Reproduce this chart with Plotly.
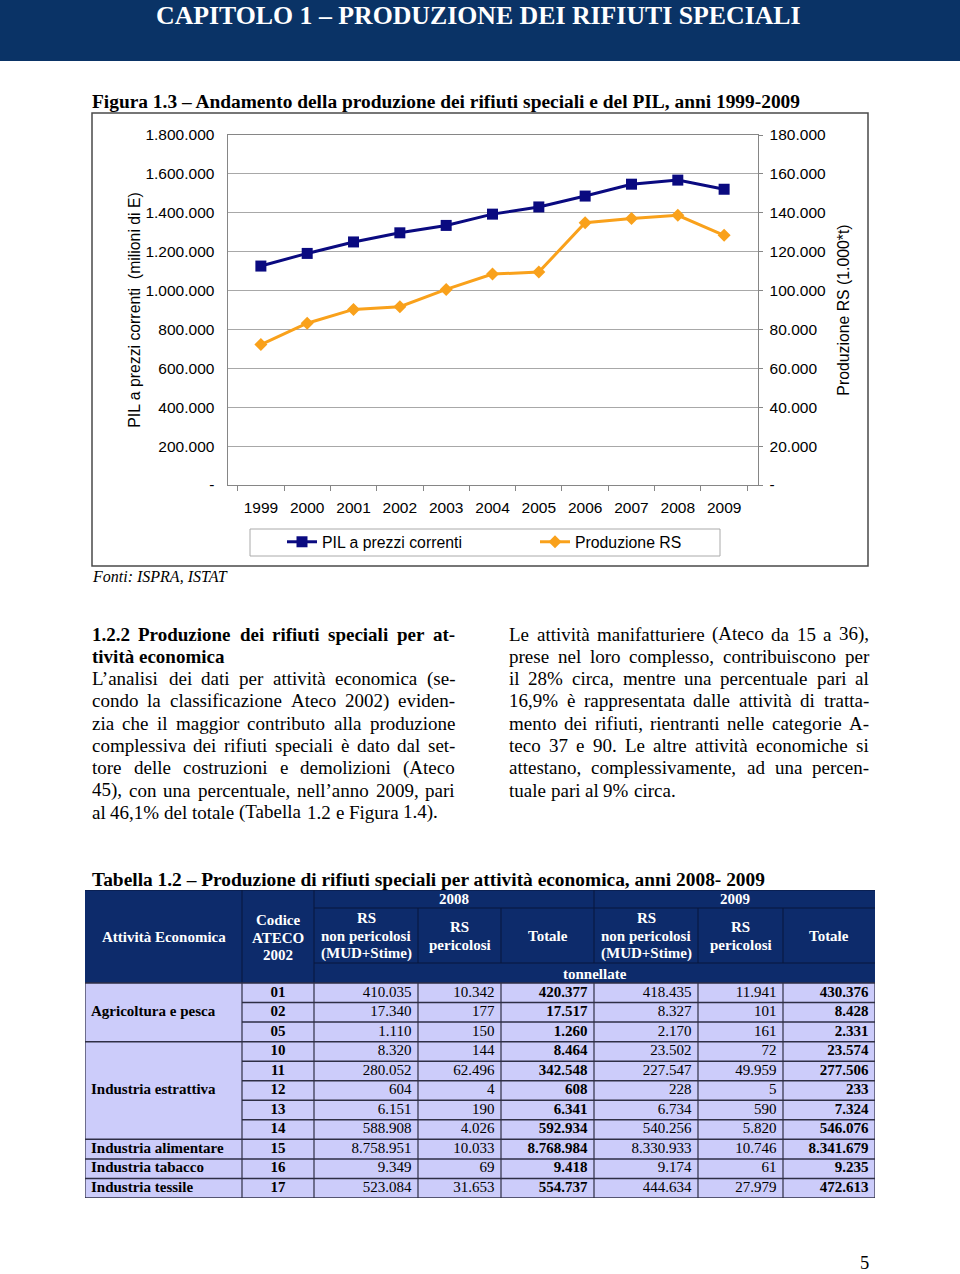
import plotly.graph_objects as go

W, H = 960, 1274
SERIF = "Liberation Serif"
SANS = "Liberation Sans"
GRAY = "#868686"
NAVY_BAR = "#0a3366"
TABLE_HEAD = "#0d2b6b"
TABLE_BODY = "#ccccfa"

# ---------------- chart data ----------------
years = ["1999", "2000", "2001", "2002", "2003", "2004", "2005", "2006", "2007", "2008", "2009"]
pil_values = [1126000, 1191000, 1250000, 1297000, 1335000, 1393000, 1430000, 1486000, 1547000, 1568000, 1521000]
rs_values = [72200, 83200, 90300, 91700, 100600, 108500, 109500, 134900, 137000, 138700, 128400]

pil_tickvals = [0, 200000, 400000, 600000, 800000, 1000000, 1200000, 1400000, 1600000, 1800000]
pil_ticktext = ["-", "200.000", "400.000", "600.000", "800.000", "1.000.000",
                "1.200.000", "1.400.000", "1.600.000", "1.800.000"]
rs_tickvals = [0, 20000, 40000, 60000, 80000, 100000, 120000, 140000, 160000, 180000]
rs_ticktext = ["-", "20.000", "40.000", "60.000", "80.000", "100.000",
               "120.000", "140.000", "160.000", "180.000"]

# ---------------- table data ----------------
table_groups = ["Agricoltura e pesca", "Industria estrattiva", "Industria alimentare",
                "Industria tabacco", "Industria tessile"]
table_group_rows = [3, 5, 1, 1, 1]
ateco_codes = ["01", "02", "05", "10", "11", "12", "13", "14", "15", "16", "17"]
rs_np_2008 = [410035, 17340, 1110, 8320, 280052, 604, 6151, 588908, 8758951, 9349, 523084]
rs_p_2008 = [10342, 177, 150, 144, 62496, 4, 190, 4026, 10033, 69, 31653]
rs_tot_2008 = [420377, 17517, 1260, 8464, 342548, 608, 6341, 592934, 8768984, 9418, 554737]
rs_np_2009 = [418435, 8327, 2170, 23502, 227547, 228, 6734, 540256, 8330933, 9174, 444634]
rs_p_2009 = [11941, 101, 161, 72, 49959, 5, 590, 5820, 10746, 61, 27979]
rs_tot_2009 = [430376, 8428, 2331, 23574, 277506, 233, 7324, 546076, 8341679, 9235, 472613]

# ---------------- texts ----------------
left_lines = [
    "1.2.2 Produzione dei rifiuti speciali per at-",
    "tività economica",
    "L’analisi dei dati per attività economica (se-",
    "condo la classificazione Ateco 2002) eviden-",
    "zia che il maggior contributo alla produzione",
    "complessiva dei rifiuti speciali è dato dal set-",
    "tore delle costruzioni e demolizioni (Ateco",
    "45), con una percentuale, nell’anno 2009, pari",
    "al 46,1% del totale (Tabella 1.2 e Figura 1.4).",
]
right_lines = [
    "Le attività manifatturiere (Ateco da 15 a 36),",
    "prese nel loro complesso, contribuiscono per",
    "il 28% circa, mentre una percentuale pari al",
    "16,9% è rappresentata dalle attività di tratta-",
    "mento dei rifiuti, rientranti nelle categorie A-",
    "teco 37 e 90. Le altre attività economiche si",
    "attestano, complessivamente, ad una percen-",
    "tuale pari al 9% circa.",
]


def it_num(n):
    return f"{n:,}".replace(",", ".")


def px(x):
    return x / W


def py(y):
    return 1 - y / H


# Times metrics (per 1000 em) for justification
TNR = dict(zip("abcdefghijklmnopqrstuvwxyz",
               [444, 500, 444, 500, 444, 333, 500, 500, 278, 278, 500, 278, 778, 500, 500, 500,
                500, 333, 389, 278, 500, 500, 722, 500, 500, 444]))
TNR.update(zip("ABCDEFGHIJKLMNOPQRSTUVWXYZ",
               [722, 667, 667, 722, 611, 556, 722, 722, 333, 389, 722, 611, 889, 722, 722, 556,
                722, 667, 556, 611, 722, 722, 944, 722, 722, 611]))
TNR.update({" ": 250, ",": 250, ".": 250, "-": 333, "(": 333, ")": 333, "%": 833,
            "’": 333, "à": 444, "è": 444, ":": 278})
TNRB = dict(zip("abcdefghijklmnopqrstuvwxyz",
                [500, 556, 444, 556, 444, 333, 500, 556, 278, 333, 556, 278, 833, 556, 500, 556,
                 556, 444, 389, 333, 556, 500, 722, 500, 500, 444]))
TNRB.update(zip("ABCDEFGHIJKLMNOPQRSTUVWXYZ",
                [722, 667, 722, 722, 667, 611, 778, 778, 389, 500, 778, 667, 944, 722, 778, 611,
                 778, 722, 556, 667, 722, 722, 1000, 722, 722, 667]))
TNRB.update({" ": 250, ",": 250, ".": 250, "-": 333, "(": 333, ")": 333, "%": 1000,
             "à": 500, "–": 500})


def text_width(s, size, bold=False):
    tbl = TNRB if bold else TNR
    return sum(tbl.get(c, 500) for c in s) * size / 1000.0


annotations = []


def ann(x, y, text, size, xanchor="left", bold=False, italic=False, color="black",
        family=SERIF, angle=0, yanchor="middle"):
    t = text
    if bold:
        t = "<b>" + t + "</b>"
    if italic:
        t = "<i>" + t + "</i>"
    annotations.append(dict(x=px(x), y=py(y), xref="paper", yref="paper", text=t,
                            showarrow=False, xanchor=xanchor, yanchor=yanchor,
                            font=dict(family=family, size=size, color=color),
                            borderpad=0, borderwidth=0, textangle=angle))


def add_paragraph(lines, x0, x1, y0, lh, size, bold_set, nojust_set):
    for i, line in enumerate(lines):
        bold = i in bold_set
        words = line.split(" ")
        ws = [text_width(w, size, bold) for w in words]
        if i not in nojust_set and len(words) > 1:
            gap = (x1 - x0 - sum(ws)) / (len(words) - 1)
        else:
            gap = 250 * size / 1000.0
        x = x0
        for w, wd in zip(words, ws):
            ann(x, y0 + i * lh, w, size, bold=bold)
            x += wd + gap


BODY = 19
LH = 22.3
# page texts
ann(478, 15, "CAPITOLO 1 – PRODUZIONE DEI RIFIUTI SPECIALI", 25.8, xanchor="center",
    bold=True, color="white")
ann(92, 101, "Figura 1.3 – Andamento della produzione dei rifiuti speciali e del PIL, anni 1999-2009",
    19.4, bold=True)
ann(92, 576, "Fonti: ISPRA, ISTAT", 16, italic=True)
add_paragraph(left_lines, 92, 455, 634, LH, BODY, {0, 1}, {1, 8})
add_paragraph(right_lines, 509, 869, 634, LH, BODY, set(), {7})
ann(92, 879, "Tabella 1.2 – Produzione di rifiuti speciali per attività economica, anni 2008- 2009",
    19.4, bold=True)
ann(864, 1273, "5", 18.5, xanchor="center", yanchor="bottom")

# ---------------- table geometry ----------------
TX0, TY0, ROW = 85, 983, 19.547
col_edges = [0, 157, 229, 333, 416, 509, 613, 698, 790]
HEAD_TOP = (890 - TY0) / ROW
HEAD_SPLIT1 = (908 - TY0) / ROW
HEAD_SPLIT2 = (963 - TY0) / ROW
n_rows = len(ateco_codes)


def hy(ypx):
    return (ypx - TY0) / ROW


def tann(x, ypx, text, size=15, bold=True, color="white", xanchor="center"):
    t = "<b>" + text + "</b>" if bold else text
    annotations.append(dict(x=x, y=hy(ypx), xref="x3", yref="y3", text=t, showarrow=False,
                            xanchor=xanchor, yanchor="middle", borderpad=0, borderwidth=0,
                            font=dict(family=SERIF, size=size, color=color)))


def mid(a, b):
    return (col_edges[a] + col_edges[b]) / 2


HL = 17.5
tann(mid(0, 1), 937, "Attività Economica")
for k, t in enumerate(["Codice", "ATECO", "2002"]):
    tann(mid(1, 2), 920 + k * HL, t)
tann(mid(2, 5), 899, "2008")
tann(mid(5, 8), 899, "2009")
for c0 in (2, 5):
    for k, t in enumerate(["RS", "non pericolosi", "(MUD+Stime)"]):
        tann(mid(c0, c0 + 1), 918 + k * HL, t)
    for k, t in enumerate(["RS", "pericolosi"]):
        tann(mid(c0 + 1, c0 + 2), 927 + k * HL, t)
    tann(mid(c0 + 2, c0 + 3), 936, "Totale")
tann(mid(2, 8), 974, "tonnellate")

shapes = []
# header bar
shapes.append(dict(type="rect", xref="paper", yref="paper", x0=0, x1=1, y0=py(61), y1=1,
                   fillcolor=NAVY_BAR, line=dict(width=0), layer="below"))
# chart frame
shapes.append(dict(type="rect", xref="paper", yref="paper", x0=px(92), x1=px(868),
                   y0=py(566), y1=py(113), line=dict(color="#4a4a4a", width=1.5)))
# legend frame
shapes.append(dict(type="rect", xref="paper", yref="paper", x0=px(250), x1=px(720),
                   y0=py(556), y1=py(529), line=dict(color="#aaaaaa", width=1)))
# table fills
shapes.append(dict(type="rect", xref="x3", yref="y3", x0=0, x1=790, y0=HEAD_TOP, y1=0,
                   fillcolor=TABLE_HEAD, line=dict(width=0), layer="below"))
shapes.append(dict(type="rect", xref="x3", yref="y3", x0=0, x1=790, y0=0, y1=n_rows,
                   fillcolor=TABLE_BODY, line=dict(width=0), layer="below"))


def tline(x0, y0, x1, y1, color, width):
    shapes.append(dict(type="line", xref="x3", yref="y3", x0=x0, y0=y0, x1=x1, y1=y1,
                       line=dict(color=color, width=width)))


HCOL = "#08173d"
tline(0, HEAD_TOP, 790, HEAD_TOP, HCOL, 1)
for xe in (157, 229):
    tline(xe, HEAD_TOP, xe, 0, HCOL, 1)
tline(509, HEAD_TOP, 509, HEAD_SPLIT2, HCOL, 1)
for xe in (333, 416, 613, 698):
    tline(xe, HEAD_SPLIT1, xe, HEAD_SPLIT2, HCOL, 1)
tline(229, HEAD_SPLIT1, 790, HEAD_SPLIT1, HCOL, 1)
tline(229, HEAD_SPLIT2, 790, HEAD_SPLIT2, HCOL, 1)

DCOL = "#2e2e44"
group_bounds = [0]
for n in table_group_rows:
    group_bounds.append(group_bounds[-1] + n)
for r in range(n_rows + 1):
    x_start = 0 if r in group_bounds else 157
    tline(x_start, r, 790, r, DCOL, 1.5)
for xe in col_edges:
    tline(xe, 0, xe, n_rows, DCOL, 1.2)

# ---------------- figure ----------------
fig = go.Figure()
fig.add_trace(go.Scatter(
    x=years, y=pil_values, name="PIL a prezzi correnti", mode="lines+markers",
    line=dict(color="#0a0a80", width=3), marker=dict(symbol="square", size=11, color="#0a0a80"),
    xaxis="x", yaxis="y", cliponaxis=False, hoverinfo="skip"))
fig.add_trace(go.Scatter(
    x=years, y=rs_values, name="Produzione RS", mode="lines+markers",
    line=dict(color="#f9a11b", width=3), marker=dict(symbol="diamond", size=10, color="#f9a11b"),
    xaxis="x", yaxis="y2", cliponaxis=False, hoverinfo="skip"))

# table text traces
row_mid = [i + 0.5 for i in range(n_rows)]
PAD = 6.5
numeric_cols = [(rs_np_2008, 3, False), (rs_p_2008, 4, False), (rs_tot_2008, 5, True),
                (rs_np_2009, 6, False), (rs_p_2009, 7, False), (rs_tot_2009, 8, True)]
for vals, edge_idx, bold in numeric_cols:
    txt = [("<b>%s</b>" if bold else "%s") % it_num(v) for v in vals]
    fig.add_trace(go.Scatter(
        x=[col_edges[edge_idx] - PAD] * n_rows, y=row_mid, mode="text", text=txt,
        textposition="middle left", textfont=dict(family=SERIF, size=15, color="black"),
        xaxis="x3", yaxis="y3", showlegend=False, hoverinfo="skip", cliponaxis=False))
fig.add_trace(go.Scatter(
    x=[mid(1, 2)] * n_rows, y=row_mid, mode="text", text=["<b>%s</b>" % c for c in ateco_codes],
    textposition="middle center", textfont=dict(family=SERIF, size=15, color="black"),
    xaxis="x3", yaxis="y3", showlegend=False, hoverinfo="skip", cliponaxis=False))
grp_mid = [(group_bounds[i] + group_bounds[i + 1]) / 2 for i in range(len(table_groups))]
fig.add_trace(go.Scatter(
    x=[6] * len(table_groups), y=grp_mid, mode="text",
    text=["<b>%s</b>" % g for g in table_groups],
    textposition="middle right", textfont=dict(family=SERIF, size=15, color="black"),
    xaxis="x3", yaxis="y3", showlegend=False, hoverinfo="skip", cliponaxis=False))

tickfont = dict(family=SANS, size=15.5, color="black")
fig.update_layout(
    width=W, height=H, autosize=False,
    margin=dict(l=0, r=0, t=0, b=0, pad=0),
    paper_bgcolor="white", plot_bgcolor="white",
    showlegend=True,
    legend=dict(orientation="h", x=px(282), y=py(542), xanchor="left", yanchor="middle",
                font=dict(family=SANS, size=15.8, color="black"), bgcolor="rgba(0,0,0,0)",
                borderwidth=0, entrywidth=208, entrywidthmode="pixels", itemclick=False),
    xaxis=dict(domain=[px(227.5), px(757.5)], type="category", categoryorder="array",
               categoryarray=years, tickson="boundaries", ticks="outside", ticklen=5,
               tickcolor=GRAY, showline=True, linecolor=GRAY, linewidth=1, mirror=True,
               showgrid=False, tickfont=tickfont, ticklabelstandoff=8, anchor="y",
               automargin=False, fixedrange=True),
    yaxis=dict(domain=[py(485), py(135)], range=[0, 1800000], tickvals=pil_tickvals,
               ticktext=pil_ticktext, showgrid=True, gridcolor="#a8a8a8", gridwidth=1,
               showline=True, linecolor=GRAY, ticks="", zeroline=False, tickfont=tickfont,
               ticklabelstandoff=9, automargin=False, fixedrange=True, anchor="x",
               title=dict(text="PIL a prezzi correnti \u00a0(milioni di E)",
                          font=dict(family=SANS, size=15.8, color="black"), standoff=0)),
    yaxis2=dict(overlaying="y", side="right", anchor="x", range=[0, 180000],
                tickvals=rs_tickvals, ticktext=rs_ticktext, showgrid=False, showline=True,
                linecolor=GRAY, ticks="outside", ticklen=4, tickcolor=GRAY, zeroline=False,
                tickfont=tickfont, ticklabelstandoff=4, automargin=False, fixedrange=True,
                title=dict(text="Produzione RS (1.000*t)",
                           font=dict(family=SANS, size=15.8, color="black"), standoff=12)),
    xaxis3=dict(domain=[px(85), px(875)], range=[0, 790], visible=False, fixedrange=True,
                anchor="y3"),
    yaxis3=dict(domain=[py(1198), py(890)], range=[n_rows, HEAD_TOP], visible=False,
                fixedrange=True, anchor="x3"),
    annotations=annotations,
    shapes=shapes,
)

fig.write_html("out.html", config={"displayModeBar": False, "staticPlot": True},
               post_script="document.body.style.margin='0';document.body.style.padding='0';")
